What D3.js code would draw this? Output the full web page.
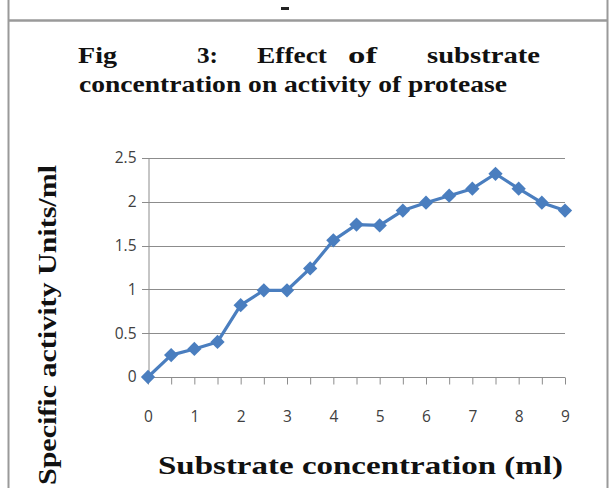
<!DOCTYPE html>
<html>
<head>
<meta charset="utf-8">
<script src="https://cdn.jsdelivr.net/npm/d3@7"></script>
<style>
    body { margin: 0; background: #fff; }
    svg { display: block; }
</style>
</head>
<body>
<div id="chart"></div>
<script>
// substrate concentration (ml) and specific activity (Units/ml)
const concentrations = [0, 0.5, 1, 1.5, 2, 2.5, 3, 3.5, 4, 4.5, 5, 5.5, 6, 6.5, 7, 7.5, 8, 8.5, 9];
const activity = [0, 0.25, 0.32, 0.40, 0.82, 0.99, 0.99, 1.24, 1.56, 1.74, 1.73, 1.90, 1.99, 2.07, 2.15, 2.32, 2.15, 1.99, 1.90];
const xTicks = [0, 1, 2, 3, 4, 5, 6, 7, 8, 9];
const yTicks = [0, 0.5, 1, 1.5, 2, 2.5];
const titleLine1 = ['Fig', '3:', 'Effect', 'of', 'substrate'];
const titleLine2 = 'concentration on activity of protease';
const xTitle = 'Substrate concentration (ml)';
const yTitle = 'Specific activity Units/ml';

const width = 610, height = 488;
const plot = {left: 148, right: 565, top: 158, bottom: 377};
const lineColor = '#4a7ebf';
const gridColor = '#8c8c8c';
const serif = '"Liberation Serif", "DejaVu Serif", serif';
const sans = '"Open Sans", "DejaVu Sans", sans-serif';

const svg = d3.select('#chart').append('svg')
    .attr('width', width)
    .attr('height', height);

// outer frame of the figure
const frame = svg.append('g').attr('stroke', '#9a9a9a').attr('fill', 'none');
frame.append('line').attr('x1', 8.5).attr('x2', 8.5).attr('y1', 0).attr('y2', height).attr('stroke-width', 2);
frame.append('line').attr('x1', 607.5).attr('x2', 607.5).attr('y1', 0).attr('y2', height).attr('stroke-width', 2);
frame.append('line').attr('x1', 8).attr('x2', 608).attr('y1', 20.5).attr('y2', 20.5).attr('stroke-width', 2.5);
svg.append('rect').attr('x', 281).attr('y', 7).attr('width', 8).attr('height', 3).attr('fill', '#222');

function boldSerif(sel, size) {
    return sel.attr('font-family', serif)
        .attr('font-weight', 'bold')
        .attr('font-size', size)
        .attr('fill', '#111')
        .attr('lengthAdjust', 'spacingAndGlyphs');
}

// title: first line is justified, so every word sits on its own
const wordStart = [78, 197, 257, 348, 427];
const wordWidth = [39, 21, 70, 29, 113];
titleLine1.forEach((w, i) => {
    boldSerif(svg.append('text'), 23)
        .attr('x', wordStart[i])
        .attr('y', 63)
        .attr('textLength', wordWidth[i])
        .text(w);
});
boldSerif(svg.append('text'), 23)
    .attr('x', 79)
    .attr('y', 92)
    .attr('textLength', 428)
    .text(titleLine2);

const xScale = d3.scaleLinear().domain([0, 9]).range([plot.left, plot.right]);
const yScale = d3.scaleLinear().domain([0, 2.5]).range([plot.bottom, plot.top]);

// horizontal gridlines
svg.append('g')
    .selectAll('line')
    .data(yTicks.filter(d => d > 0))
    .join('line')
    .attr('x1', plot.left - 6)
    .attr('x2', plot.right)
    .attr('y1', d => Math.round(yScale(d)) + 0.5)
    .attr('y2', d => Math.round(yScale(d)) + 0.5)
    .attr('stroke', gridColor)
    .attr('stroke-width', 1);

const xAxis = d3.axisBottom(xScale)
    .tickValues(concentrations)
    .tickSize(7)
    .tickFormat(d => xTicks.includes(d) ? d : '');
const gx = svg.append('g')
    .attr('transform', `translate(0,${Math.round(plot.bottom) + 0.5})`)
    .call(xAxis);
gx.select('.domain').attr('stroke', gridColor).attr('d', `M${plot.left},0H${plot.right}`);
gx.selectAll('.tick line').attr('stroke', gridColor);
gx.selectAll('.tick text')
    .attr('dy', 0)
    .attr('y', 44)
    .attr('font-family', sans)
    .attr('font-size', 15.5)
    .attr('fill', '#404040');

const yAxis = d3.axisLeft(yScale)
    .tickValues(yTicks)
    .tickSize(0)
    .tickPadding(12)
    .tickFormat(d3.format('~g'));
const gy = svg.append('g')
    .attr('transform', `translate(${plot.left + 0.5},0)`)
    .call(yAxis);
gy.select('.domain').attr('stroke', gridColor);
gy.selectAll('.tick text')
    .attr('font-family', sans)
    .attr('font-size', 15.5)
    .attr('fill', '#404040');

// axis titles
boldSerif(svg.append('text'), 26)
    .attr('transform', 'translate(56,325) rotate(-90)')
    .attr('x', -160)
    .attr('textLength', 320)
    .text(yTitle);
boldSerif(svg.append('text'), 26)
    .attr('x', 158)
    .attr('y', 474)
    .attr('textLength', 405)
    .text(xTitle);

// data line and diamond markers
const points = concentrations.map((c, i) => ({x: c, y: activity[i]}));
const line = d3.line().x(d => xScale(d.x)).y(d => yScale(d.y));
svg.append('path')
    .datum(points)
    .attr('d', line)
    .attr('fill', 'none')
    .attr('stroke', lineColor)
    .attr('stroke-width', 3.2)
    .attr('stroke-linejoin', 'round');
svg.append('g')
    .selectAll('path')
    .data(points)
    .join('path')
    .attr('d', d3.symbol(d3.symbolDiamond2, 130))
    .attr('transform', d => `translate(${xScale(d.x)},${yScale(d.y)})`)
    .attr('fill', lineColor);
</script>
</body>
</html>
